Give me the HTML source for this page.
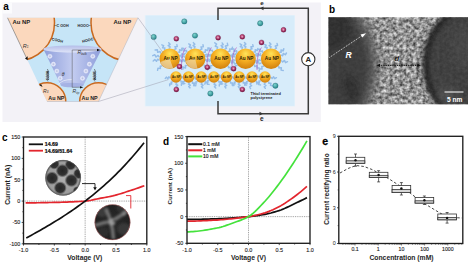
<!DOCTYPE html>
<html><head><meta charset="utf-8"><style>
html,body{margin:0;padding:0;background:#fff;width:468px;height:268px;overflow:hidden;}
svg{display:block;font-family:"Liberation Sans",sans-serif;}
</style></head><body>
<svg width="468" height="268" viewBox="0 0 468 268"><rect x="2.5" y="2.5" width="318.3" height="119.5" fill="#f3f2f7"/>
<rect x="2.5" y="2.5" width="9.5" height="11" fill="#fbfbfd"/>
<text x="3.2" y="10.3" font-family="Liberation Sans, sans-serif" font-weight="bold" font-size="10">a</text>
<defs><clipPath id="trap"><polygon points="7.5,17.8 138,17.8 98.5,101.5 47,101.5"/></clipPath>
<linearGradient id="cone" x1="0" y1="0" x2="1" y2="0"><stop offset="0" stop-color="#8e9edb"/><stop offset="0.5" stop-color="#c3ccf0"/><stop offset="1" stop-color="#8d9dda"/></linearGradient>
<linearGradient id="coneTop" x1="0" y1="0" x2="0" y2="1"><stop offset="0" stop-color="#b3bde8"/><stop offset="1" stop-color="#dfe4f8"/></linearGradient>
<radialGradient id="gold" cx="0.5" cy="0.3" r="0.75" fx="0.5" fy="0.25"><stop offset="0" stop-color="#ffe45a"/><stop offset="0.45" stop-color="#f5ae22"/><stop offset="1" stop-color="#cc7a0c"/></radialGradient>
<radialGradient id="ion1" cx="0.4" cy="0.35" r="0.7"><stop offset="0" stop-color="#7fd6d0"/><stop offset="1" stop-color="#1f7f86"/></radialGradient>
<radialGradient id="ion2" cx="0.4" cy="0.35" r="0.7"><stop offset="0" stop-color="#e06a9a"/><stop offset="1" stop-color="#7a1040"/></radialGradient>
</defs>
<polygon points="7.5,17.8 138,17.8 98.5,101.5 47,101.5" fill="#c6e5f7"/>
<g clip-path="url(#trap)">
<circle cx="16.5" cy="23" r="38" fill="#fbd8bd" stroke="#c9691f" stroke-width="1.5"/>
<circle cx="129" cy="23" r="38" fill="#fbd8bd" stroke="#c9691f" stroke-width="1.5"/>
<circle cx="47" cy="101.5" r="18.8" fill="#fbd8bd" stroke="#c9691f" stroke-width="1.5"/>
<circle cx="98.5" cy="101.5" r="18.8" fill="#fbd8bd" stroke="#c9691f" stroke-width="1.5"/>
</g>
<polyline points="138,17.8 98.5,101.5 47,101.5" fill="none" stroke="#a8a8b8" stroke-width="0.4"/>
<polyline points="48.00,69.00 47.20,70.04 48.80,71.08 47.20,72.12 48.80,73.17 47.20,74.21 48.80,75.25 47.20,76.29 48.80,77.33 47.20,78.38 48.80,79.42 47.20,80.46 48.00,81.50" fill="none" stroke="#333" stroke-width="0.5"/>
<polyline points="95.00,69.00 94.20,70.04 95.80,71.08 94.20,72.12 95.80,73.17 94.20,74.21 95.80,75.25 94.20,76.29 95.80,77.33 94.20,78.38 95.80,79.42 94.20,80.46 95.00,81.50" fill="none" stroke="#333" stroke-width="0.5"/>
<path d="M43.4,49 L60.6,84.8 A12,3 0 0 0 83.7,84.8 L101.7,49 Z" fill="url(#cone)"/>
<ellipse cx="72.5" cy="49" rx="29.1" ry="3.6" fill="url(#coneTop)"/>
<ellipse cx="72.2" cy="85" rx="11.6" ry="2.3" fill="#a5b2e4"/>
<path d="M58.5,84.5 Q62,79.5 72,79.5" fill="none" stroke="#eef0fa" stroke-width="0.7"/>
<circle cx="49.9" cy="56.3" r="2.1" fill="#dfe3f7" stroke="#f5f6ff" stroke-width="0.4"/>
<path d="M48.9,56.3 h2 M49.9,55.3 v2" stroke="#9aa3c8" stroke-width="0.35"/>
<circle cx="53.4" cy="64.2" r="2.1" fill="#dfe3f7" stroke="#f5f6ff" stroke-width="0.4"/>
<path d="M52.4,64.2 h2 M53.4,63.2 v2" stroke="#9aa3c8" stroke-width="0.35"/>
<circle cx="56.8" cy="71.1" r="2.1" fill="#dfe3f7" stroke="#f5f6ff" stroke-width="0.4"/>
<path d="M55.8,71.1 h2 M56.8,70.1 v2" stroke="#9aa3c8" stroke-width="0.35"/>
<circle cx="60.2" cy="78.3" r="2.1" fill="#dfe3f7" stroke="#f5f6ff" stroke-width="0.4"/>
<path d="M59.2,78.3 h2 M60.2,77.3 v2" stroke="#9aa3c8" stroke-width="0.35"/>
<circle cx="92.8" cy="56.3" r="2.1" fill="#dfe3f7" stroke="#f5f6ff" stroke-width="0.4"/>
<path d="M91.8,56.3 h2 M92.8,55.3 v2" stroke="#9aa3c8" stroke-width="0.35"/>
<circle cx="89.4" cy="64.2" r="2.1" fill="#dfe3f7" stroke="#f5f6ff" stroke-width="0.4"/>
<path d="M88.4,64.2 h2 M89.4,63.2 v2" stroke="#9aa3c8" stroke-width="0.35"/>
<circle cx="85.9" cy="71.1" r="2.1" fill="#dfe3f7" stroke="#f5f6ff" stroke-width="0.4"/>
<path d="M84.9,71.1 h2 M85.9,70.1 v2" stroke="#9aa3c8" stroke-width="0.35"/>
<circle cx="82.5" cy="78.3" r="2.1" fill="#dfe3f7" stroke="#f5f6ff" stroke-width="0.4"/>
<path d="M81.5,78.3 h2 M82.5,77.3 v2" stroke="#9aa3c8" stroke-width="0.35"/>
<line x1="72.2" y1="50" x2="72.2" y2="87.5" stroke="#444" stroke-width="0.45"/>
<line x1="72.2" y1="50" x2="98" y2="50" stroke="#444" stroke-width="0.45"/>
<polygon points="97,48.7 100.5,50 97,51.3" fill="#111"/>
<line x1="72.2" y1="87.3" x2="81" y2="87.3" stroke="#444" stroke-width="0.45"/>
<polygon points="80,86.2 83.3,87.3 80,88.4" fill="#111"/>
<text x="61.8" y="76" font-family="Liberation Sans, sans-serif" font-style="italic" font-size="5" fill="#333">θ</text>
<text x="77.5" y="54.3" font-family="Liberation Sans, sans-serif" font-style="italic" font-size="5" fill="#333">R<tspan font-size="3" dy="0.9">bulk</tspan></text>
<text x="72.5" y="93" font-family="Liberation Sans, sans-serif" font-style="italic" font-size="5" fill="#333">R<tspan font-size="3" dy="0.9">tip</tspan></text>
<text x="22.7" y="47.5" font-family="Liberation Sans, sans-serif" font-style="italic" font-size="5.5" fill="#333">R<tspan font-size="3.3" dy="0.9">1</tspan></text>
<text x="43" y="92.5" font-family="Liberation Sans, sans-serif" font-style="italic" font-size="5" fill="#333">R<tspan font-size="3" dy="0.9">3</tspan></text>
<line x1="7.5" y1="17.8" x2="26.5" y2="58" stroke="#444" stroke-width="0.45"/>
<polygon points="25,58.6 27.6,60.3 27.7,56.3" fill="#111"/>
<polygon points="39.4,85.3 42.6,87 41,84" fill="#111"/>
<text x="12.5" y="24.3" font-family="Liberation Sans, sans-serif" font-weight="bold" font-size="5.9" fill="#222">Au NP</text>
<text x="113.5" y="24.3" font-family="Liberation Sans, sans-serif" font-weight="bold" font-size="5.9" fill="#222">Au NP</text>
<text x="48.3" y="99.8" font-family="Liberation Sans, sans-serif" font-weight="bold" font-size="5.4" fill="#222">Au NP</text>
<text x="81.5" y="99.8" font-family="Liberation Sans, sans-serif" font-weight="bold" font-size="5.4" fill="#222">Au NP</text>
<text x="56.5" y="26.8" font-family="Liberation Sans, sans-serif" font-weight="bold" font-size="3.7" fill="#222">C OOH</text>
<line x1="54.5" y1="25.5" x2="56.5" y2="25.5" stroke="#333" stroke-width="0.5"/>
<text x="77.5" y="26.8" font-family="Liberation Sans, sans-serif" font-weight="bold" font-size="3.7" fill="#222">HOOC</text>
<line x1="88" y1="25.5" x2="90.5" y2="25.5" stroke="#333" stroke-width="0.5"/>
<text x="51.5" y="40.2" font-family="Liberation Sans, sans-serif" font-weight="bold" font-size="3.8" fill="#1a1a1a" transform="rotate(14 51.5 40.2)">COOH</text>
<text x="82.5" y="42.8" font-family="Liberation Sans, sans-serif" font-weight="bold" font-size="3.8" fill="#1a1a1a" transform="rotate(-14 82.5 42.8)">HOOC</text>
<text x="49.2" y="80" font-family="Liberation Sans, sans-serif" font-weight="bold" font-size="3" fill="#222" transform="rotate(-90 49.2 80)">COOH</text>
<text x="96.2" y="80" font-family="Liberation Sans, sans-serif" font-weight="bold" font-size="3" fill="#222" transform="rotate(-90 96.2 80)">HOOC</text>
<rect x="144.8" y="15" width="150.2" height="91.5" fill="#e6f2fa"/>
<rect x="145.6" y="15.6" width="148.8" height="90.3" fill="#d7ecfa"/>
<polyline points="218,20 218,8.3 308.3,8.3 308.3,113.7 218,113.7 218,101" fill="none" stroke="#3a3a3a" stroke-width="1.5"/>
<circle cx="308.3" cy="59.2" r="6.6" fill="#fff" stroke="#333" stroke-width="1.1"/>
<text x="308.3" y="62.4" font-family="Liberation Sans, sans-serif" font-weight="bold" font-size="7.8" text-anchor="middle" fill="#222">A</text>
<text x="262" y="5.2" font-family="Liberation Sans, sans-serif" font-weight="bold" font-size="6.2" text-anchor="middle" fill="#222">e</text>
<text x="261.7" y="121" font-family="Liberation Sans, sans-serif" font-weight="bold" font-size="6.5" text-anchor="middle" fill="#222">e</text>
<polygon points="260,8.3 263.5,6.4 263.5,10.2" fill="#333"/>
<polygon points="263,113.7 259.5,111.8 259.5,115.6" fill="#333"/>
<polyline points="169.24,48.01 170.20,46.92 168.14,45.70 170.09,44.31 168.72,42.80" fill="none" stroke="#95bde8" stroke-width="1.45" stroke-linecap="round" stroke-linejoin="round"/>
<polyline points="174.74,49.25 176.10,48.81 174.92,46.75 177.29,46.55 176.85,44.59" fill="none" stroke="#95bde8" stroke-width="1.45" stroke-linecap="round" stroke-linejoin="round"/>
<polyline points="178.20,52.14 179.69,52.24 179.55,49.81 181.88,50.53 182.38,48.48" fill="none" stroke="#95bde8" stroke-width="1.45" stroke-linecap="round" stroke-linejoin="round"/>
<polyline points="179.92,55.30 181.33,55.87 182.04,53.51 184.05,54.93 185.27,53.14" fill="none" stroke="#95bde8" stroke-width="1.45" stroke-linecap="round" stroke-linejoin="round"/>
<polyline points="180.43,60.02 181.44,61.14 183.07,59.32 184.25,61.46 186.08,60.36" fill="none" stroke="#95bde8" stroke-width="1.45" stroke-linecap="round" stroke-linejoin="round"/>
<polyline points="178.79,64.63 179.12,66.02 181.28,65.03 181.28,67.41 183.28,67.15" fill="none" stroke="#95bde8" stroke-width="1.45" stroke-linecap="round" stroke-linejoin="round"/>
<polyline points="161.72,66.08 160.17,66.14 160.42,68.62 157.98,68.14 157.54,70.31" fill="none" stroke="#95bde8" stroke-width="1.45" stroke-linecap="round" stroke-linejoin="round"/>
<polyline points="158.97,60.06 157.69,59.20 156.47,61.36 154.78,59.55 153.18,61.04" fill="none" stroke="#95bde8" stroke-width="1.45" stroke-linecap="round" stroke-linejoin="round"/>
<polyline points="159.11,56.66 158.05,55.42 156.06,57.06 154.88,54.78 152.72,55.67" fill="none" stroke="#95bde8" stroke-width="1.45" stroke-linecap="round" stroke-linejoin="round"/>
<polyline points="160.57,53.02 160.05,51.51 157.65,52.35 157.39,49.82 155.10,49.91" fill="none" stroke="#95bde8" stroke-width="1.45" stroke-linecap="round" stroke-linejoin="round"/>
<polyline points="164.53,49.32 164.91,47.92 162.53,47.74 163.66,45.63 161.77,44.88" fill="none" stroke="#95bde8" stroke-width="1.45" stroke-linecap="round" stroke-linejoin="round"/>
<polyline points="194.21,48.05 195.11,46.87 192.99,45.69 194.86,44.15 193.41,42.63" fill="none" stroke="#95bde8" stroke-width="1.45" stroke-linecap="round" stroke-linejoin="round"/>
<polyline points="200.61,49.45 202.00,49.04 200.93,46.90 203.32,46.76 202.99,44.74" fill="none" stroke="#95bde8" stroke-width="1.45" stroke-linecap="round" stroke-linejoin="round"/>
<polyline points="203.77,52.23 205.33,52.30 205.29,49.81 207.69,50.49 208.32,48.37" fill="none" stroke="#95bde8" stroke-width="1.45" stroke-linecap="round" stroke-linejoin="round"/>
<polyline points="205.65,56.08 207.03,56.75 207.93,54.45 209.85,56.02 211.21,54.32" fill="none" stroke="#95bde8" stroke-width="1.45" stroke-linecap="round" stroke-linejoin="round"/>
<polyline points="205.92,60.09 206.81,61.20 208.32,59.37 209.34,61.50 211.01,60.40" fill="none" stroke="#95bde8" stroke-width="1.45" stroke-linecap="round" stroke-linejoin="round"/>
<polyline points="204.10,64.92 204.52,66.43 206.90,65.63 207.00,68.13 209.23,68.09" fill="none" stroke="#95bde8" stroke-width="1.45" stroke-linecap="round" stroke-linejoin="round"/>
<polyline points="186.83,65.63 185.36,65.54 185.56,67.95 183.24,67.27 182.80,69.31" fill="none" stroke="#95bde8" stroke-width="1.45" stroke-linecap="round" stroke-linejoin="round"/>
<polyline points="184.53,60.45 183.18,59.65 181.99,61.86 180.19,60.11 178.60,61.68" fill="none" stroke="#95bde8" stroke-width="1.45" stroke-linecap="round" stroke-linejoin="round"/>
<polyline points="184.54,57.05 183.55,55.87 181.78,57.61 180.66,55.40 178.71,56.39" fill="none" stroke="#95bde8" stroke-width="1.45" stroke-linecap="round" stroke-linejoin="round"/>
<polyline points="186.80,52.02 186.44,50.44 183.96,51.01 183.99,48.46 181.70,48.28" fill="none" stroke="#95bde8" stroke-width="1.45" stroke-linecap="round" stroke-linejoin="round"/>
<polyline points="191.06,48.83 191.56,47.44 189.20,46.95 190.52,44.93 188.70,43.93" fill="none" stroke="#95bde8" stroke-width="1.45" stroke-linecap="round" stroke-linejoin="round"/>
<polyline points="221.84,48.07 222.95,47.16 221.12,45.64 223.25,44.59 222.14,42.89" fill="none" stroke="#95bde8" stroke-width="1.45" stroke-linecap="round" stroke-linejoin="round"/>
<polyline points="225.09,48.98 226.51,48.28 225.33,46.05 227.79,45.49 227.37,43.28" fill="none" stroke="#95bde8" stroke-width="1.45" stroke-linecap="round" stroke-linejoin="round"/>
<polyline points="228.45,51.39 229.97,51.33 229.64,48.89 232.06,49.36 232.42,47.23" fill="none" stroke="#95bde8" stroke-width="1.45" stroke-linecap="round" stroke-linejoin="round"/>
<polyline points="230.80,55.25 232.26,55.80 233.02,53.42 235.10,54.81 236.37,52.99" fill="none" stroke="#95bde8" stroke-width="1.45" stroke-linecap="round" stroke-linejoin="round"/>
<polyline points="230.96,61.87 231.80,63.16 233.77,61.66 234.60,63.99 236.66,63.24" fill="none" stroke="#95bde8" stroke-width="1.45" stroke-linecap="round" stroke-linejoin="round"/>
<polyline points="228.40,66.27 228.50,67.75 230.87,67.25 230.48,69.64 232.56,69.83" fill="none" stroke="#95bde8" stroke-width="1.45" stroke-linecap="round" stroke-linejoin="round"/>
<polyline points="212.23,65.62 210.63,65.64 210.68,68.18 208.20,67.61 207.56,69.81" fill="none" stroke="#95bde8" stroke-width="1.45" stroke-linecap="round" stroke-linejoin="round"/>
<polyline points="209.87,60.07 208.62,59.21 207.44,61.36 205.79,59.54 204.24,61.04" fill="none" stroke="#95bde8" stroke-width="1.45" stroke-linecap="round" stroke-linejoin="round"/>
<polyline points="210.17,55.98 209.45,54.75 207.70,56.35 206.99,54.09 205.18,54.95" fill="none" stroke="#95bde8" stroke-width="1.45" stroke-linecap="round" stroke-linejoin="round"/>
<polyline points="212.49,51.67 212.26,50.13 209.81,50.64 210.01,48.15 207.81,47.95" fill="none" stroke="#95bde8" stroke-width="1.45" stroke-linecap="round" stroke-linejoin="round"/>
<polyline points="217.10,48.58 217.64,47.08 215.24,46.26 216.63,44.13 214.79,42.79" fill="none" stroke="#95bde8" stroke-width="1.45" stroke-linecap="round" stroke-linejoin="round"/>
<polyline points="245.04,48.01 245.98,46.85 243.91,45.56 245.84,44.06 244.45,42.46" fill="none" stroke="#95bde8" stroke-width="1.45" stroke-linecap="round" stroke-linejoin="round"/>
<polyline points="250.68,49.27 252.03,48.85 250.86,46.80 253.21,46.63 252.78,44.68" fill="none" stroke="#95bde8" stroke-width="1.45" stroke-linecap="round" stroke-linejoin="round"/>
<polyline points="253.98,51.99 255.43,52.10 255.19,49.72 257.47,50.45 257.87,48.44" fill="none" stroke="#95bde8" stroke-width="1.45" stroke-linecap="round" stroke-linejoin="round"/>
<polyline points="255.86,55.44 257.14,56.07 257.73,53.78 259.56,55.28 260.61,53.57" fill="none" stroke="#95bde8" stroke-width="1.45" stroke-linecap="round" stroke-linejoin="round"/>
<polyline points="255.95,61.88 256.66,63.13 258.48,61.58 259.15,63.87 261.02,63.07" fill="none" stroke="#95bde8" stroke-width="1.45" stroke-linecap="round" stroke-linejoin="round"/>
<polyline points="254.44,65.01 254.77,66.47 257.07,65.64 257.06,68.08 259.18,67.98" fill="none" stroke="#95bde8" stroke-width="1.45" stroke-linecap="round" stroke-linejoin="round"/>
<polyline points="237.08,65.43 235.46,65.42 235.44,67.97 232.97,67.36 232.27,69.55" fill="none" stroke="#95bde8" stroke-width="1.45" stroke-linecap="round" stroke-linejoin="round"/>
<polyline points="234.92,60.39 233.52,59.59 232.26,61.80 230.41,60.05 228.73,61.61" fill="none" stroke="#95bde8" stroke-width="1.45" stroke-linecap="round" stroke-linejoin="round"/>
<polyline points="234.96,56.96 234.02,55.78 232.29,57.51 231.25,55.30 229.37,56.30" fill="none" stroke="#95bde8" stroke-width="1.45" stroke-linecap="round" stroke-linejoin="round"/>
<polyline points="236.93,52.36 236.51,50.80 234.05,51.46 233.98,48.91 231.68,48.82" fill="none" stroke="#95bde8" stroke-width="1.45" stroke-linecap="round" stroke-linejoin="round"/>
<polyline points="242.01,48.61 242.60,47.30 240.28,46.73 241.74,44.83 239.99,43.79" fill="none" stroke="#95bde8" stroke-width="1.45" stroke-linecap="round" stroke-linejoin="round"/>
<polyline points="270.26,48.03 271.18,46.89 269.08,45.71 270.97,44.22 269.55,42.72" fill="none" stroke="#95bde8" stroke-width="1.45" stroke-linecap="round" stroke-linejoin="round"/>
<polyline points="275.15,48.79 276.51,48.10 275.19,46.03 277.59,45.45 277.03,43.37" fill="none" stroke="#95bde8" stroke-width="1.45" stroke-linecap="round" stroke-linejoin="round"/>
<polyline points="279.69,52.25 281.15,52.39 281.01,49.98 283.29,50.75 283.79,48.74" fill="none" stroke="#95bde8" stroke-width="1.45" stroke-linecap="round" stroke-linejoin="round"/>
<polyline points="281.27,55.16 282.67,55.73 283.32,53.37 285.32,54.78 286.47,52.99" fill="none" stroke="#95bde8" stroke-width="1.45" stroke-linecap="round" stroke-linejoin="round"/>
<polyline points="281.70,60.87 282.66,62.08 284.47,60.40 285.53,62.64 287.50,61.70" fill="none" stroke="#95bde8" stroke-width="1.45" stroke-linecap="round" stroke-linejoin="round"/>
<polyline points="278.76,66.41 278.91,67.97 281.39,67.61 281.06,70.10 283.26,70.45" fill="none" stroke="#95bde8" stroke-width="1.45" stroke-linecap="round" stroke-linejoin="round"/>
<polyline points="263.42,66.40 261.82,66.58 262.10,69.12 259.56,68.81 259.12,71.08" fill="none" stroke="#95bde8" stroke-width="1.45" stroke-linecap="round" stroke-linejoin="round"/>
<polyline points="260.43,60.49 259.03,59.70 257.78,61.92 255.91,60.19 254.25,61.78" fill="none" stroke="#95bde8" stroke-width="1.45" stroke-linecap="round" stroke-linejoin="round"/>
<polyline points="260.77,55.65 259.99,54.37 258.07,55.87 257.32,53.55 255.34,54.31" fill="none" stroke="#95bde8" stroke-width="1.45" stroke-linecap="round" stroke-linejoin="round"/>
<polyline points="262.50,52.27 262.28,50.85 260.04,51.67 260.22,49.30 258.21,49.40" fill="none" stroke="#95bde8" stroke-width="1.45" stroke-linecap="round" stroke-linejoin="round"/>
<polyline points="266.73,48.92 267.23,47.59 264.89,47.23 266.20,45.26 264.39,44.39" fill="none" stroke="#95bde8" stroke-width="1.45" stroke-linecap="round" stroke-linejoin="round"/>
<polyline points="180.91,80.78 181.11,82.07 183.14,81.36 182.98,83.50 184.81,83.44" fill="none" stroke="#95bde8" stroke-width="1.45" stroke-linecap="round" stroke-linejoin="round"/>
<polyline points="176.63,83.17 175.83,84.22 177.74,85.24 176.07,86.63 177.39,87.96" fill="none" stroke="#95bde8" stroke-width="1.45" stroke-linecap="round" stroke-linejoin="round"/>
<polyline points="172.24,81.93 170.98,82.10 171.73,84.09 169.62,83.89 169.73,85.67" fill="none" stroke="#95bde8" stroke-width="1.45" stroke-linecap="round" stroke-linejoin="round"/>
<polyline points="169.83,77.65 168.82,76.85 167.87,78.76 166.54,77.09 165.29,78.40" fill="none" stroke="#95bde8" stroke-width="1.45" stroke-linecap="round" stroke-linejoin="round"/>
<polyline points="182.19,76.75 183.14,77.61 184.19,75.76 185.40,77.52 186.71,76.29" fill="none" stroke="#95bde8" stroke-width="1.45" stroke-linecap="round" stroke-linejoin="round"/>
<polyline points="192.47,81.85 192.40,83.21 194.60,83.09 193.99,85.21 195.86,85.68" fill="none" stroke="#95bde8" stroke-width="1.45" stroke-linecap="round" stroke-linejoin="round"/>
<polyline points="189.25,83.17 188.46,84.21 190.37,85.20 188.71,86.57 190.02,87.86" fill="none" stroke="#95bde8" stroke-width="1.45" stroke-linecap="round" stroke-linejoin="round"/>
<polyline points="184.42,81.58 183.10,81.69 183.61,83.80 181.46,83.49 181.34,85.36" fill="none" stroke="#95bde8" stroke-width="1.45" stroke-linecap="round" stroke-linejoin="round"/>
<polyline points="182.44,77.70 181.28,76.93 180.15,78.87 178.62,77.23 177.16,78.57" fill="none" stroke="#95bde8" stroke-width="1.45" stroke-linecap="round" stroke-linejoin="round"/>
<polyline points="194.73,77.91 195.58,78.95 197.08,77.35 198.04,79.32 199.68,78.38" fill="none" stroke="#95bde8" stroke-width="1.45" stroke-linecap="round" stroke-linejoin="round"/>
<polyline points="205.61,81.36 205.62,82.65 207.70,82.18 207.25,84.26 209.05,84.40" fill="none" stroke="#95bde8" stroke-width="1.45" stroke-linecap="round" stroke-linejoin="round"/>
<polyline points="201.94,83.16 201.16,84.22 203.09,85.21 201.45,86.63 202.78,87.93" fill="none" stroke="#95bde8" stroke-width="1.45" stroke-linecap="round" stroke-linejoin="round"/>
<polyline points="197.14,81.68 195.76,81.90 196.24,84.08 194.01,83.91 193.85,85.88" fill="none" stroke="#95bde8" stroke-width="1.45" stroke-linecap="round" stroke-linejoin="round"/>
<polyline points="195.03,77.63 194.04,76.83 193.10,78.73 191.79,77.05 190.56,78.36" fill="none" stroke="#95bde8" stroke-width="1.45" stroke-linecap="round" stroke-linejoin="round"/>
<polyline points="207.34,77.84 208.22,78.86 209.71,77.25 210.71,79.20 212.36,78.25" fill="none" stroke="#95bde8" stroke-width="1.45" stroke-linecap="round" stroke-linejoin="round"/>
<polyline points="218.72,80.90 218.94,82.23 221.05,81.62 220.90,83.81 222.82,83.85" fill="none" stroke="#95bde8" stroke-width="1.45" stroke-linecap="round" stroke-linejoin="round"/>
<polyline points="214.78,83.14 214.03,84.26 215.99,85.25 214.38,86.75 215.76,88.08" fill="none" stroke="#95bde8" stroke-width="1.45" stroke-linecap="round" stroke-linejoin="round"/>
<polyline points="208.93,80.71 207.54,80.63 207.54,82.88 205.39,82.24 204.80,84.14" fill="none" stroke="#95bde8" stroke-width="1.45" stroke-linecap="round" stroke-linejoin="round"/>
<polyline points="207.71,76.64 206.81,75.68 205.52,77.41 204.44,75.54 202.94,76.62" fill="none" stroke="#95bde8" stroke-width="1.45" stroke-linecap="round" stroke-linejoin="round"/>
<polyline points="220.10,76.75 221.06,77.61 222.16,75.77 223.40,77.52 224.75,76.30" fill="none" stroke="#95bde8" stroke-width="1.45" stroke-linecap="round" stroke-linejoin="round"/>
<polyline points="230.51,81.73 230.48,83.08 232.66,82.87 232.11,84.99 233.97,85.39" fill="none" stroke="#95bde8" stroke-width="1.45" stroke-linecap="round" stroke-linejoin="round"/>
<polyline points="225.98,83.18 225.00,84.07 226.70,85.42 224.80,86.47 225.85,88.01" fill="none" stroke="#95bde8" stroke-width="1.45" stroke-linecap="round" stroke-linejoin="round"/>
<polyline points="222.49,81.73 221.12,81.96 221.64,84.14 219.41,83.99 219.27,85.96" fill="none" stroke="#95bde8" stroke-width="1.45" stroke-linecap="round" stroke-linejoin="round"/>
<polyline points="220.37,76.10 219.44,75.06 217.85,76.64 216.79,74.67 215.03,75.59" fill="none" stroke="#95bde8" stroke-width="1.45" stroke-linecap="round" stroke-linejoin="round"/>
<polyline points="232.67,77.57 233.65,78.56 235.14,76.89 236.30,78.81 237.99,77.79" fill="none" stroke="#95bde8" stroke-width="1.45" stroke-linecap="round" stroke-linejoin="round"/>
<polyline points="243.26,81.69 243.20,82.99 245.33,82.71 244.74,84.78 246.56,85.09" fill="none" stroke="#95bde8" stroke-width="1.45" stroke-linecap="round" stroke-linejoin="round"/>
<polyline points="239.17,83.20 238.26,84.17 240.06,85.39 238.25,86.59 239.41,88.06" fill="none" stroke="#95bde8" stroke-width="1.45" stroke-linecap="round" stroke-linejoin="round"/>
<polyline points="235.48,81.96 234.21,82.14 234.97,84.13 232.85,83.95 232.97,85.74" fill="none" stroke="#95bde8" stroke-width="1.45" stroke-linecap="round" stroke-linejoin="round"/>
<polyline points="233.01,77.41 232.00,76.57 230.94,78.45 229.63,76.73 228.28,77.99" fill="none" stroke="#95bde8" stroke-width="1.45" stroke-linecap="round" stroke-linejoin="round"/>
<polyline points="245.39,77.36 246.43,78.32 247.89,76.60 249.15,78.48 250.85,77.40" fill="none" stroke="#95bde8" stroke-width="1.45" stroke-linecap="round" stroke-linejoin="round"/>
<polyline points="256.45,81.31 256.61,82.72 258.84,82.37 258.56,84.61 260.55,84.90" fill="none" stroke="#95bde8" stroke-width="1.45" stroke-linecap="round" stroke-linejoin="round"/>
<polyline points="251.10,83.13 250.05,84.08 251.63,85.69 249.65,86.78 250.57,88.57" fill="none" stroke="#95bde8" stroke-width="1.45" stroke-linecap="round" stroke-linejoin="round"/>
<polyline points="247.80,81.56 246.50,81.64 247.02,83.73 244.90,83.38 244.80,85.21" fill="none" stroke="#95bde8" stroke-width="1.45" stroke-linecap="round" stroke-linejoin="round"/>
<polyline points="245.82,77.51 244.81,76.69 243.79,78.58 242.47,76.88 241.16,78.16" fill="none" stroke="#95bde8" stroke-width="1.45" stroke-linecap="round" stroke-linejoin="round"/>
<polyline points="258.18,76.45 259.28,77.26 260.39,75.35 261.83,77.03 263.26,75.73" fill="none" stroke="#95bde8" stroke-width="1.45" stroke-linecap="round" stroke-linejoin="round"/>
<polyline points="268.83,81.88 268.78,83.27 271.02,83.21 270.43,85.37 272.34,85.91" fill="none" stroke="#95bde8" stroke-width="1.45" stroke-linecap="round" stroke-linejoin="round"/>
<polyline points="265.04,83.20 264.14,84.24 265.95,85.51 264.16,86.81 265.34,88.35" fill="none" stroke="#95bde8" stroke-width="1.45" stroke-linecap="round" stroke-linejoin="round"/>
<polyline points="260.24,80.97 258.96,80.87 259.23,82.99 257.20,82.34 256.89,84.12" fill="none" stroke="#95bde8" stroke-width="1.45" stroke-linecap="round" stroke-linejoin="round"/>
<polyline points="258.81,76.70 257.77,75.75 256.33,77.48 255.07,75.62 253.39,76.71" fill="none" stroke="#95bde8" stroke-width="1.45" stroke-linecap="round" stroke-linejoin="round"/>
<polyline points="271.18,77.52 272.15,78.51 273.61,76.83 274.76,78.73 276.43,77.70" fill="none" stroke="#95bde8" stroke-width="1.45" stroke-linecap="round" stroke-linejoin="round"/>
<circle cx="169.7" cy="58.8" r="10.2" fill="url(#gold)"/>
<text x="170.5" y="60.1" font-family="Liberation Sans, sans-serif" font-weight="bold" font-size="4.7" text-anchor="middle" fill="#2e1e06">Au NP</text>
<circle cx="195.2" cy="58.8" r="10.2" fill="url(#gold)"/>
<text x="196.0" y="60.1" font-family="Liberation Sans, sans-serif" font-weight="bold" font-size="4.7" text-anchor="middle" fill="#2e1e06">Au NP</text>
<circle cx="220.6" cy="58.8" r="10.2" fill="url(#gold)"/>
<text x="221.4" y="60.1" font-family="Liberation Sans, sans-serif" font-weight="bold" font-size="4.7" text-anchor="middle" fill="#2e1e06">Au NP</text>
<circle cx="245.6" cy="58.8" r="10.2" fill="url(#gold)"/>
<text x="246.4" y="60.1" font-family="Liberation Sans, sans-serif" font-weight="bold" font-size="4.7" text-anchor="middle" fill="#2e1e06">Au NP</text>
<circle cx="271.1" cy="58.8" r="10.2" fill="url(#gold)"/>
<text x="271.90000000000003" y="60.1" font-family="Liberation Sans, sans-serif" font-weight="bold" font-size="4.7" text-anchor="middle" fill="#2e1e06">Au NP</text>
<path d="M169.7,58.8 L160.2,61.9 A9.9,9.9 0 0 0 173.1,68.1 Z" fill="#ece6cc" opacity="0.6"/>
<path d="M195.2,58.8 L185.5,60.8 A9.9,9.9 0 0 0 197.5,68.4 Z" fill="#ece6cc" opacity="0.55"/>
<circle cx="176" cy="77" r="5.7" fill="url(#gold)"/>
<text x="176.2" y="78" font-family="Liberation Sans, sans-serif" font-weight="bold" font-size="2.8" text-anchor="middle" fill="#2e1e06">Au NP</text>
<circle cx="188.6" cy="77" r="5.7" fill="url(#gold)"/>
<text x="188.79999999999998" y="78" font-family="Liberation Sans, sans-serif" font-weight="bold" font-size="2.8" text-anchor="middle" fill="#2e1e06">Au NP</text>
<circle cx="201.2" cy="77" r="5.7" fill="url(#gold)"/>
<text x="201.39999999999998" y="78" font-family="Liberation Sans, sans-serif" font-weight="bold" font-size="2.8" text-anchor="middle" fill="#2e1e06">Au NP</text>
<circle cx="213.9" cy="77" r="5.7" fill="url(#gold)"/>
<text x="214.1" y="78" font-family="Liberation Sans, sans-serif" font-weight="bold" font-size="2.8" text-anchor="middle" fill="#2e1e06">Au NP</text>
<circle cx="226.5" cy="77" r="5.7" fill="url(#gold)"/>
<text x="226.7" y="78" font-family="Liberation Sans, sans-serif" font-weight="bold" font-size="2.8" text-anchor="middle" fill="#2e1e06">Au NP</text>
<circle cx="239.2" cy="77" r="5.7" fill="url(#gold)"/>
<text x="239.39999999999998" y="78" font-family="Liberation Sans, sans-serif" font-weight="bold" font-size="2.8" text-anchor="middle" fill="#2e1e06">Au NP</text>
<circle cx="252" cy="77" r="5.7" fill="url(#gold)"/>
<text x="252.2" y="78" font-family="Liberation Sans, sans-serif" font-weight="bold" font-size="2.8" text-anchor="middle" fill="#2e1e06">Au NP</text>
<circle cx="265" cy="77" r="5.7" fill="url(#gold)"/>
<text x="265.2" y="78" font-family="Liberation Sans, sans-serif" font-weight="bold" font-size="2.8" text-anchor="middle" fill="#2e1e06">Au NP</text>
<path d="M186.0,47.5 Q181.0,53 181.5,70" fill="none" stroke="#b848b8" stroke-width="0.6"/>
<path d="M211.5,47.5 Q206.5,53 207,70" fill="none" stroke="#b848b8" stroke-width="0.6"/>
<path d="M236.5,47.5 Q231.5,53 232,70" fill="none" stroke="#b848b8" stroke-width="0.6"/>
<path d="M261.5,47.5 Q256.5,53 257,70" fill="none" stroke="#b848b8" stroke-width="0.6"/>
<circle cx="184.3" cy="21.4" r="2.7" fill="url(#ion1)" stroke="#1a5a60" stroke-width="0.3"/>
<circle cx="153.7" cy="37" r="2.7" fill="url(#ion1)" stroke="#1a5a60" stroke-width="0.3"/>
<circle cx="195" cy="35.6" r="2.7" fill="url(#ion1)" stroke="#1a5a60" stroke-width="0.3"/>
<circle cx="260.2" cy="23.3" r="2.7" fill="url(#ion1)" stroke="#1a5a60" stroke-width="0.3"/>
<circle cx="275.4" cy="85.7" r="2.7" fill="url(#ion1)" stroke="#1a5a60" stroke-width="0.3"/>
<circle cx="210.4" cy="93.5" r="2.7" fill="url(#ion1)" stroke="#1a5a60" stroke-width="0.3"/>
<circle cx="176.3" cy="38.7" r="2.5" fill="url(#ion2)" stroke="#5a0a30" stroke-width="0.3"/>
<path d="M175.4,38.7 h1.8 M176.3,37.800000000000004 v1.8" stroke="#f0d0e0" stroke-width="0.45"/>
<circle cx="218.1" cy="37.7" r="2.5" fill="url(#ion2)" stroke="#5a0a30" stroke-width="0.3"/>
<path d="M217.2,37.7 h1.8 M218.1,36.800000000000004 v1.8" stroke="#f0d0e0" stroke-width="0.45"/>
<circle cx="242.3" cy="36.8" r="2.5" fill="url(#ion2)" stroke="#5a0a30" stroke-width="0.3"/>
<path d="M241.4,36.8 h1.8 M242.3,35.9 v1.8" stroke="#f0d0e0" stroke-width="0.45"/>
<circle cx="261.5" cy="42.4" r="2.5" fill="url(#ion2)" stroke="#5a0a30" stroke-width="0.3"/>
<path d="M260.6,42.4 h1.8 M261.5,41.5 v1.8" stroke="#f0d0e0" stroke-width="0.45"/>
<circle cx="283.5" cy="29.8" r="2.5" fill="url(#ion2)" stroke="#5a0a30" stroke-width="0.3"/>
<path d="M282.6,29.8 h1.8 M283.5,28.900000000000002 v1.8" stroke="#f0d0e0" stroke-width="0.45"/>
<circle cx="176.3" cy="89.4" r="2.5" fill="url(#ion2)" stroke="#5a0a30" stroke-width="0.3"/>
<path d="M175.4,89.4 h1.8 M176.3,88.5 v1.8" stroke="#f0d0e0" stroke-width="0.45"/>
<circle cx="242.3" cy="89.4" r="2.5" fill="url(#ion2)" stroke="#5a0a30" stroke-width="0.3"/>
<path d="M241.4,89.4 h1.8 M242.3,88.5 v1.8" stroke="#f0d0e0" stroke-width="0.45"/>
<circle cx="207.3" cy="67.2" r="2.5" fill="url(#ion2)" stroke="#5a0a30" stroke-width="0.3"/>
<path d="M206.4,67.2 h1.8 M207.3,66.3 v1.8" stroke="#f0d0e0" stroke-width="0.45"/>
<circle cx="233.6" cy="68.7" r="2.5" fill="url(#ion2)" stroke="#5a0a30" stroke-width="0.3"/>
<path d="M232.7,68.7 h1.8 M233.6,67.8 v1.8" stroke="#f0d0e0" stroke-width="0.45"/>
<circle cx="179.4" cy="66.5" r="2.5" fill="url(#ion2)" stroke="#5a0a30" stroke-width="0.3"/>
<path d="M178.5,66.5 h1.8 M179.4,65.6 v1.8" stroke="#f0d0e0" stroke-width="0.45"/>
<line x1="138" y1="17.8" x2="163.5" y2="53.3" stroke="#9c9cac" stroke-width="0.5"/>
<line x1="98.5" y1="101.5" x2="168.5" y2="79.6" stroke="#9c9cac" stroke-width="0.5"/>
<text x="250.5" y="94.8" font-family="Liberation Sans, sans-serif" font-weight="bold" font-size="3.9" fill="#222">Thiol terminated</text>
<text x="250.5" y="99.4" font-family="Liberation Sans, sans-serif" font-weight="bold" font-size="3.9" fill="#222">polystyrene</text>
<text x="329" y="12.8" font-family="Liberation Sans, sans-serif" font-weight="bold" font-size="10">b</text>
<defs><filter id="noise" x="0" y="0" width="100%" height="100%" color-interpolation-filters="sRGB"><feTurbulence type="fractalNoise" baseFrequency="0.3" numOctaves="2" seed="11" result="t"/><feColorMatrix in="t" type="matrix" values="1.0 0 0 0 0.08  1.0 0 0 0 0.08  1.0 0 0 0 0.08  0 0 0 0 1"/><feGaussianBlur stdDeviation="0.6"/></filter>
<filter id="blur3" x="-20%" y="-20%" width="140%" height="140%"><feGaussianBlur stdDeviation="3"/></filter>
<filter id="blur5" x="-20%" y="-20%" width="140%" height="140%"><feGaussianBlur stdDeviation="4.5"/></filter>
<filter id="blur2" x="-20%" y="-20%" width="140%" height="140%"><feGaussianBlur stdDeviation="2"/></filter>
<clipPath id="tem"><rect x="328.5" y="17.3" width="139.5" height="87"/></clipPath>
</defs>
<g clip-path="url(#tem)">
<rect x="328.5" y="17.3" width="139.5" height="87" fill="#999" filter="url(#noise)"/>
<g filter="url(#blur5)">
<circle cx="288" cy="67" r="93" fill="#707070" opacity="0.45"/>
<circle cx="288" cy="67" r="89" fill="#545454" opacity="0.85"/>
<circle cx="288" cy="67" r="82" fill="#363636" opacity="0.96"/>
<ellipse cx="351" cy="88" rx="6" ry="15" fill="#1a1a1a" opacity="0.6" transform="rotate(-20 351 88)"/>
<circle cx="330" cy="28" r="22" fill="#202020" opacity="0.6"/>
</g>
<g filter="url(#blur2)">
<circle cx="489" cy="64" r="67" fill="#3a3a3a" opacity="0.97"/>
<circle cx="489" cy="64" r="63" fill="none" stroke="#161616" stroke-width="6" opacity="0.85"/>
</g>
<g filter="url(#blur5)"><ellipse cx="447" cy="96" rx="9" ry="8" fill="#5a5a5a" opacity="0.6"/><ellipse cx="462" cy="45" rx="10" ry="22" fill="#484848" opacity="0.5"/></g>
<rect x="328.5" y="17.3" width="139.5" height="87" fill="#999" filter="url(#noise)" opacity="0.07"/>
</g>
<line x1="329.4" y1="57.5" x2="363" y2="35" stroke="#fff" stroke-width="0.8" stroke-dasharray="1,1"/>
<polygon points="360.5,34.5 366,33.2 362.5,37.5" fill="#fff"/>
<text x="345.5" y="58.3" font-family="Liberation Sans, sans-serif" font-weight="bold" font-style="italic" font-size="8.6" fill="#fff">R</text>
<text x="394.5" y="60.5" font-family="Liberation Sans, sans-serif" font-style="italic" font-size="8" fill="#000">d</text>
<line x1="379" y1="65.3" x2="418.5" y2="65.3" stroke="#000" stroke-width="1" stroke-dasharray="1.1,0.7"/>
<polygon points="376.5,65.3 380,63.7 380,66.9" fill="#111"/>
<polygon points="421,65.3 417.5,63.7 417.5,66.9" fill="#111"/>
<line x1="444.5" y1="92" x2="463.5" y2="92" stroke="#fff" stroke-width="1"/>
<text x="454.8" y="102.4" font-family="Liberation Sans, sans-serif" font-weight="bold" font-size="6.6" text-anchor="middle" fill="#fff">5 nm</text>
<text x="2" y="140.8" font-family="Liberation Sans, sans-serif" font-weight="bold" font-size="10">c</text>
<line x1="85.15" y1="137" x2="85.15" y2="243.8" stroke="#444" stroke-width="0.55" stroke-dasharray="0.9,0.9"/>
<line x1="23.5" y1="201.08" x2="146.8" y2="201.08" stroke="#444" stroke-width="0.55" stroke-dasharray="0.9,0.9"/>
<text x="23.50" y="251.8" font-family="Liberation Sans, sans-serif" font-size="5.4" text-anchor="middle" fill="#1e1e1e" stroke="#1e1e1e" stroke-width="0.12">-1.0</text>
<text x="54.33" y="251.8" font-family="Liberation Sans, sans-serif" font-size="5.4" text-anchor="middle" fill="#1e1e1e" stroke="#1e1e1e" stroke-width="0.12">-0.5</text>
<text x="85.15" y="251.8" font-family="Liberation Sans, sans-serif" font-size="5.4" text-anchor="middle" fill="#1e1e1e" stroke="#1e1e1e" stroke-width="0.12">0.0</text>
<text x="115.98" y="251.8" font-family="Liberation Sans, sans-serif" font-size="5.4" text-anchor="middle" fill="#1e1e1e" stroke="#1e1e1e" stroke-width="0.12">0.5</text>
<text x="146.80" y="251.8" font-family="Liberation Sans, sans-serif" font-size="5.4" text-anchor="middle" fill="#1e1e1e" stroke="#1e1e1e" stroke-width="0.12">1.0</text>
<line x1="23.50" y1="243.8" x2="23.50" y2="245.60000000000002" stroke="#222" stroke-width="0.8"/>
<line x1="38.91" y1="243.8" x2="38.91" y2="245.0" stroke="#222" stroke-width="0.8"/>
<line x1="54.33" y1="243.8" x2="54.33" y2="245.60000000000002" stroke="#222" stroke-width="0.8"/>
<line x1="69.74" y1="243.8" x2="69.74" y2="245.0" stroke="#222" stroke-width="0.8"/>
<line x1="85.15" y1="243.8" x2="85.15" y2="245.60000000000002" stroke="#222" stroke-width="0.8"/>
<line x1="100.56" y1="243.8" x2="100.56" y2="245.0" stroke="#222" stroke-width="0.8"/>
<line x1="115.98" y1="243.8" x2="115.98" y2="245.60000000000002" stroke="#222" stroke-width="0.8"/>
<line x1="131.39" y1="243.8" x2="131.39" y2="245.0" stroke="#222" stroke-width="0.8"/>
<line x1="146.80" y1="243.8" x2="146.80" y2="245.60000000000002" stroke="#222" stroke-width="0.8"/>
<text x="20.3" y="138.90" font-family="Liberation Sans, sans-serif" font-size="5.4" text-anchor="end" fill="#1e1e1e" stroke="#1e1e1e" stroke-width="0.12">150</text>
<line x1="21.7" y1="137.00" x2="23.5" y2="137.00" stroke="#222" stroke-width="0.8"/>
<text x="20.3" y="160.26" font-family="Liberation Sans, sans-serif" font-size="5.4" text-anchor="end" fill="#1e1e1e" stroke="#1e1e1e" stroke-width="0.12">100</text>
<line x1="21.7" y1="158.36" x2="23.5" y2="158.36" stroke="#222" stroke-width="0.8"/>
<text x="20.3" y="181.62" font-family="Liberation Sans, sans-serif" font-size="5.4" text-anchor="end" fill="#1e1e1e" stroke="#1e1e1e" stroke-width="0.12">50</text>
<line x1="21.7" y1="179.72" x2="23.5" y2="179.72" stroke="#222" stroke-width="0.8"/>
<text x="20.3" y="202.98" font-family="Liberation Sans, sans-serif" font-size="5.4" text-anchor="end" fill="#1e1e1e" stroke="#1e1e1e" stroke-width="0.12">0</text>
<line x1="21.7" y1="201.08" x2="23.5" y2="201.08" stroke="#222" stroke-width="0.8"/>
<text x="20.3" y="224.34" font-family="Liberation Sans, sans-serif" font-size="5.4" text-anchor="end" fill="#1e1e1e" stroke="#1e1e1e" stroke-width="0.12">-50</text>
<line x1="21.7" y1="222.44" x2="23.5" y2="222.44" stroke="#222" stroke-width="0.8"/>
<text x="20.3" y="245.70" font-family="Liberation Sans, sans-serif" font-size="5.4" text-anchor="end" fill="#1e1e1e" stroke="#1e1e1e" stroke-width="0.12">-100</text>
<line x1="21.7" y1="243.80" x2="23.5" y2="243.80" stroke="#222" stroke-width="0.8"/>
<line x1="22.4" y1="147.68" x2="23.5" y2="147.68" stroke="#222" stroke-width="0.8"/>
<line x1="22.4" y1="169.04" x2="23.5" y2="169.04" stroke="#222" stroke-width="0.8"/>
<line x1="22.4" y1="190.40" x2="23.5" y2="190.40" stroke="#222" stroke-width="0.8"/>
<line x1="22.4" y1="211.76" x2="23.5" y2="211.76" stroke="#222" stroke-width="0.8"/>
<line x1="22.4" y1="233.12" x2="23.5" y2="233.12" stroke="#222" stroke-width="0.8"/>
<text x="84.8" y="260.2" font-family="Liberation Sans, sans-serif" font-weight="bold" font-size="6.8" text-anchor="middle" fill="#1e1e1e">Voltage (V)</text>
<text x="9.6" y="184.8" font-family="Liberation Sans, sans-serif" font-weight="bold" font-size="6.8" text-anchor="middle" fill="#1e1e1e" transform="rotate(-90 9.6 184.8)">Current (nA)</text>
<polyline points="25.66,202.87 27.64,202.87 29.61,202.85 31.59,202.84 33.57,202.81 35.55,202.79 37.53,202.76 39.50,202.73 41.48,202.69 43.46,202.65 45.44,202.61 47.42,202.57 49.39,202.52 51.37,202.48 53.35,202.43 55.33,202.38 57.30,202.33 59.28,202.28 61.26,202.23 63.24,202.17 65.22,202.11 67.19,202.04 69.17,201.97 71.15,201.89 73.13,201.80 75.11,201.71 77.08,201.61 79.06,201.49 81.04,201.37 83.02,201.24 85.00,201.09 86.97,200.89 88.95,200.60 90.93,200.24 92.91,199.83 94.89,199.40 96.86,198.97 98.84,198.58 100.82,198.21 102.80,197.85 104.78,197.48 106.75,197.11 108.73,196.72 110.71,196.31 112.69,195.88 114.66,195.40 116.64,194.87 118.62,194.30 120.60,193.71 122.58,193.08 124.55,192.45 126.53,191.81 128.51,191.17 130.49,190.53 132.47,189.87 134.44,189.21 136.42,188.53 138.40,187.84 140.38,187.14 142.36,186.42 144.33,185.70" fill="none" stroke="#e3262e" stroke-width="1.7" stroke-linejoin="round"/>
<polyline points="26.27,238.02 28.63,236.73 30.98,235.43 33.34,234.12 35.69,232.81 38.05,231.49 40.40,230.15 42.76,228.80 45.11,227.44 47.47,226.06 49.82,224.67 52.18,223.26 54.53,221.83 56.89,220.38 59.24,218.92 61.60,217.43 63.95,215.91 66.31,214.38 68.66,212.81 71.02,211.23 73.37,209.61 75.73,207.97 78.08,206.29 80.44,204.59 82.79,202.85 85.15,201.08 87.51,199.28 89.86,197.44 92.22,195.56 94.57,193.65 96.93,191.69 99.28,189.70 101.64,187.67 103.99,185.59 106.35,183.47 108.70,181.31 111.06,179.10 113.41,176.84 115.77,174.53 118.12,172.18 120.48,169.78 122.83,167.32 125.19,164.81 127.54,162.25 129.90,159.63 132.25,156.96 134.61,154.23 136.96,151.44 139.32,148.59 141.67,145.69 144.03,142.72" fill="none" stroke="#111" stroke-width="1.7" stroke-linejoin="round"/>
<rect x="23.5" y="137" width="123.30000000000001" height="106.80000000000001" fill="none" stroke="#1e1e1e" stroke-width="1.35"/>
<line x1="28.8" y1="144.3" x2="43" y2="144.3" stroke="#111" stroke-width="1.8"/>
<line x1="28.8" y1="150.7" x2="43" y2="150.7" stroke="#e3262e" stroke-width="1.8"/>
<text x="44.8" y="146.2" font-family="Liberation Sans, sans-serif" font-weight="bold" font-size="5.2" fill="#111" stroke="#111" stroke-width="0.22">14.69</text>
<text x="44.8" y="152.6" font-family="Liberation Sans, sans-serif" font-weight="bold" font-size="5.2" fill="#111" stroke="#111" stroke-width="0.22">14.69/51.64</text>
<defs><radialGradient id="ins1" cx="0.5" cy="0.5" r="0.5"><stop offset="0" stop-color="#b0b0b0"/><stop offset="0.88" stop-color="#9c9c9c"/><stop offset="1" stop-color="#5a5a5a"/></radialGradient>
<radialGradient id="ins2" cx="0.5" cy="0.5" r="0.5"><stop offset="0" stop-color="#2a2a2a"/><stop offset="0.9" stop-color="#222"/><stop offset="1" stop-color="#161616"/></radialGradient>
<radialGradient id="blob" cx="0.5" cy="0.5" r="0.5"><stop offset="0" stop-color="#262626"/><stop offset="0.7" stop-color="#333"/><stop offset="1" stop-color="#666" stop-opacity="0.3"/></radialGradient>
<clipPath id="i1"><circle cx="63.1" cy="177.8" r="17.7"/></clipPath><clipPath id="i2"><circle cx="112.5" cy="222.2" r="17.8"/></clipPath>
<filter id="bl1" x="-30%" y="-30%" width="160%" height="160%"><feGaussianBlur stdDeviation="1.3"/></filter></defs>
<circle cx="63.1" cy="177.8" r="17.7" fill="url(#ins1)"/>
<g clip-path="url(#i1)">
<circle cx="54.2" cy="164" r="5.3999999999999995" fill="url(#blob)"/>
<circle cx="70.6" cy="164.7" r="5.8" fill="url(#blob)"/>
<circle cx="62.4" cy="170.7" r="6.6" fill="url(#blob)"/>
<circle cx="78.6" cy="173.7" r="5.3999999999999995" fill="url(#blob)"/>
<circle cx="52" cy="178.1" r="6.6" fill="url(#blob)"/>
<circle cx="71.4" cy="180.4" r="6.6" fill="url(#blob)"/>
<circle cx="60.2" cy="187.9" r="6.3999999999999995" fill="url(#blob)"/>
<circle cx="77" cy="190.5" r="4.1" fill="url(#blob)"/>
</g>
<circle cx="63.1" cy="177.8" r="17.5" fill="none" stroke="#5a5a5a" stroke-width="0.6"/>
<polyline points="82,183.6 95,183.6 95,188.5" fill="none" stroke="#111" stroke-width="0.9"/>
<polygon points="93.2,187.3 96.8,187.3 95,190.5" fill="#111"/>
<circle cx="112.5" cy="222.2" r="17.8" fill="url(#ins2)"/>
<g clip-path="url(#i2)"><g filter="url(#bl1)">
<ellipse cx="102" cy="211" rx="7" ry="6" fill="#3a3a3a"/><ellipse cx="124" cy="229" rx="7" ry="6" fill="#383838"/><ellipse cx="103" cy="232" rx="6" ry="5" fill="#2e2e2e"/><ellipse cx="121" cy="208" rx="5" ry="4" fill="#333"/>
<path d="M95,225.5 Q103,222.5 110.5,221.5 Q118,218 127,211 M110.5,221.5 Q113,229 113.5,239 M106,209 Q109,215 110.5,221" stroke="#6e6e6e" stroke-width="3.6" fill="none"/>
<circle cx="112" cy="222" r="3.2" fill="#9a9a9a"/><circle cx="114" cy="221" r="1.2" fill="#333"/><circle cx="124" cy="214" r="1.8" fill="#8a8a8a"/>
</g></g>
<circle cx="112.5" cy="222.2" r="17.6" fill="none" stroke="#d27a7a" stroke-width="0.5"/>
<polyline points="126,195.6 130.8,195.6 130.8,208.5" fill="none" stroke="#e3262e" stroke-width="0.9"/>
<text x="163" y="144.5" font-family="Liberation Sans, sans-serif" font-weight="bold" font-size="10">d</text>
<line x1="248.5" y1="136.6" x2="248.5" y2="243.3" stroke="#444" stroke-width="0.55" stroke-dasharray="0.9,0.9"/>
<line x1="187" y1="216.625" x2="310" y2="216.625" stroke="#444" stroke-width="0.55" stroke-dasharray="0.9,0.9"/>
<text x="187.00" y="251.6" font-family="Liberation Sans, sans-serif" font-size="5.4" text-anchor="middle" fill="#1e1e1e" stroke="#1e1e1e" stroke-width="0.12">-1.0</text>
<text x="217.75" y="251.6" font-family="Liberation Sans, sans-serif" font-size="5.4" text-anchor="middle" fill="#1e1e1e" stroke="#1e1e1e" stroke-width="0.12">-0.5</text>
<text x="248.50" y="251.6" font-family="Liberation Sans, sans-serif" font-size="5.4" text-anchor="middle" fill="#1e1e1e" stroke="#1e1e1e" stroke-width="0.12">0.0</text>
<text x="279.25" y="251.6" font-family="Liberation Sans, sans-serif" font-size="5.4" text-anchor="middle" fill="#1e1e1e" stroke="#1e1e1e" stroke-width="0.12">0.5</text>
<text x="310.00" y="251.6" font-family="Liberation Sans, sans-serif" font-size="5.4" text-anchor="middle" fill="#1e1e1e" stroke="#1e1e1e" stroke-width="0.12">1.0</text>
<line x1="187.00" y1="243.3" x2="187.00" y2="245.10000000000002" stroke="#222" stroke-width="0.8"/>
<line x1="202.38" y1="243.3" x2="202.38" y2="244.5" stroke="#222" stroke-width="0.8"/>
<line x1="217.75" y1="243.3" x2="217.75" y2="245.10000000000002" stroke="#222" stroke-width="0.8"/>
<line x1="233.12" y1="243.3" x2="233.12" y2="244.5" stroke="#222" stroke-width="0.8"/>
<line x1="248.50" y1="243.3" x2="248.50" y2="245.10000000000002" stroke="#222" stroke-width="0.8"/>
<line x1="263.88" y1="243.3" x2="263.88" y2="244.5" stroke="#222" stroke-width="0.8"/>
<line x1="279.25" y1="243.3" x2="279.25" y2="245.10000000000002" stroke="#222" stroke-width="0.8"/>
<line x1="294.62" y1="243.3" x2="294.62" y2="244.5" stroke="#222" stroke-width="0.8"/>
<line x1="310.00" y1="243.3" x2="310.00" y2="245.10000000000002" stroke="#222" stroke-width="0.8"/>
<text x="183.3" y="138.50" font-family="Liberation Sans, sans-serif" font-size="5.4" text-anchor="end" fill="#1e1e1e" stroke="#1e1e1e" stroke-width="0.12">150</text>
<line x1="185.2" y1="136.60" x2="187" y2="136.60" stroke="#222" stroke-width="0.8"/>
<text x="183.3" y="165.18" font-family="Liberation Sans, sans-serif" font-size="5.4" text-anchor="end" fill="#1e1e1e" stroke="#1e1e1e" stroke-width="0.12">100</text>
<line x1="185.2" y1="163.28" x2="187" y2="163.28" stroke="#222" stroke-width="0.8"/>
<text x="183.3" y="191.85" font-family="Liberation Sans, sans-serif" font-size="5.4" text-anchor="end" fill="#1e1e1e" stroke="#1e1e1e" stroke-width="0.12">50</text>
<line x1="185.2" y1="189.95" x2="187" y2="189.95" stroke="#222" stroke-width="0.8"/>
<text x="183.3" y="218.53" font-family="Liberation Sans, sans-serif" font-size="5.4" text-anchor="end" fill="#1e1e1e" stroke="#1e1e1e" stroke-width="0.12">0</text>
<line x1="185.2" y1="216.62" x2="187" y2="216.62" stroke="#222" stroke-width="0.8"/>
<text x="183.3" y="245.20" font-family="Liberation Sans, sans-serif" font-size="5.4" text-anchor="end" fill="#1e1e1e" stroke="#1e1e1e" stroke-width="0.12">-50</text>
<line x1="185.2" y1="243.30" x2="187" y2="243.30" stroke="#222" stroke-width="0.8"/>
<line x1="185.9" y1="149.94" x2="187" y2="149.94" stroke="#222" stroke-width="0.8"/>
<line x1="185.9" y1="176.61" x2="187" y2="176.61" stroke="#222" stroke-width="0.8"/>
<line x1="185.9" y1="203.29" x2="187" y2="203.29" stroke="#222" stroke-width="0.8"/>
<line x1="185.9" y1="229.96" x2="187" y2="229.96" stroke="#222" stroke-width="0.8"/>
<text x="248.5" y="260.2" font-family="Liberation Sans, sans-serif" font-weight="bold" font-size="6.8" text-anchor="middle" fill="#1e1e1e">Voltage (V)</text>
<text x="172.3" y="186.2" font-family="Liberation Sans, sans-serif" font-weight="bold" font-size="6.2" text-anchor="middle" fill="#1e1e1e" transform="rotate(-90 172.3 186.2)">Current (nA)</text>
<polyline points="187.00,219.40 189.00,219.40 191.00,219.38 193.00,219.37 195.00,219.34 196.99,219.31 198.99,219.27 200.99,219.23 202.99,219.19 204.99,219.14 206.99,219.08 208.99,219.03 210.98,218.97 212.98,218.91 214.98,218.85 216.98,218.78 218.98,218.72 220.98,218.64 222.98,218.54 224.98,218.43 226.97,218.31 228.97,218.19 230.97,218.06 232.97,217.92 234.97,217.78 236.97,217.64 238.97,217.49 240.97,217.33 242.97,217.16 244.96,216.98 246.96,216.78 248.96,216.58 250.96,216.35 252.96,216.12 254.96,215.87 256.96,215.59 258.96,215.30 260.95,214.99 262.95,214.65 264.95,214.29 266.95,213.89 268.95,213.44 270.95,212.96 272.95,212.43 274.94,211.87 276.94,211.27 278.94,210.64 280.94,209.95 282.94,209.16 284.94,208.30 286.94,207.38 288.94,206.42 290.94,205.44 292.93,204.47 294.93,203.52 296.93,202.57 298.93,201.61 300.93,200.63 302.93,199.64 304.93,198.64 306.93,197.63" fill="none" stroke="#111" stroke-width="1.7" stroke-linejoin="round"/>
<polyline points="187.00,221.16 189.00,221.15 191.00,221.12 193.00,221.09 195.00,221.04 196.99,220.98 198.99,220.91 200.99,220.84 202.99,220.75 204.99,220.66 206.99,220.57 208.99,220.47 210.98,220.36 212.98,220.25 214.98,220.14 216.98,220.03 218.98,219.91 220.98,219.77 222.98,219.61 224.98,219.43 226.97,219.23 228.97,219.02 230.97,218.81 232.97,218.59 234.97,218.36 236.97,218.14 238.97,217.91 240.97,217.68 242.97,217.43 244.96,217.16 246.96,216.87 248.96,216.55 250.96,216.20 252.96,215.82 254.96,215.41 256.96,214.97 258.96,214.49 260.95,213.98 262.95,213.43 264.95,212.83 266.95,212.14 268.95,211.38 270.95,210.55 272.95,209.66 274.94,208.71 276.94,207.72 278.94,206.70 280.94,205.63 282.94,204.46 284.94,203.22 286.94,201.91 288.94,200.54 290.94,199.13 292.93,197.69 294.93,196.23 296.93,194.73 298.93,193.16 300.93,191.54 302.93,189.86 304.93,188.14 306.93,186.38" fill="none" stroke="#e3262e" stroke-width="1.7" stroke-linejoin="round"/>
<polyline points="187.00,231.83 189.00,231.80 191.00,231.72 193.00,231.60 195.00,231.44 196.99,231.24 198.99,231.01 200.99,230.75 202.99,230.47 204.99,230.16 206.99,229.83 208.99,229.48 210.98,229.12 212.98,228.74 214.98,228.36 216.98,227.98 218.98,227.57 220.98,227.07 222.98,226.49 224.98,225.85 226.97,225.16 228.97,224.44 230.97,223.70 232.97,222.98 234.97,222.27 236.97,221.57 238.97,220.86 240.97,220.11 242.97,219.31 244.96,218.44 246.96,217.46 248.96,216.36 250.96,215.02 252.96,213.43 254.96,211.64 256.96,209.70 258.96,207.65 260.95,205.54 262.95,203.41 264.95,201.28 266.95,199.05 268.95,196.72 270.95,194.29 272.95,191.79 274.94,189.22 276.94,186.61 278.94,183.96 280.94,181.27 282.94,178.50 284.94,175.66 286.94,172.76 288.94,169.81 290.94,166.80 292.93,163.75 294.93,160.66 296.93,157.52 298.93,154.31 300.93,151.03 302.93,147.70 304.93,144.31 306.93,140.87" fill="none" stroke="#44e23c" stroke-width="1.7" stroke-linejoin="round"/>
<rect x="187" y="136.6" width="123" height="106.70000000000002" fill="none" stroke="#1e1e1e" stroke-width="1.35"/>
<line x1="188.2" y1="144.2" x2="202.3" y2="144.2" stroke="#111" stroke-width="2"/>
<text x="203.1" y="146.00" font-family="Liberation Sans, sans-serif" font-size="5" fill="#111" stroke="#111" stroke-width="0.15">0.1 mM</text>
<line x1="188.2" y1="150.29999999999998" x2="202.3" y2="150.29999999999998" stroke="#e3262e" stroke-width="2"/>
<text x="203.1" y="152.10" font-family="Liberation Sans, sans-serif" font-size="5" fill="#111" stroke="#111" stroke-width="0.15">1 mM</text>
<line x1="188.2" y1="156.39999999999998" x2="202.3" y2="156.39999999999998" stroke="#44e23c" stroke-width="2"/>
<text x="203.1" y="158.20" font-family="Liberation Sans, sans-serif" font-size="5" fill="#111" stroke="#111" stroke-width="0.15">10 mM</text>
<text x="322.3" y="144.8" font-family="Liberation Sans, sans-serif" font-weight="bold" font-size="10.5" stroke="#000" stroke-width="0.3">e</text>
<text x="335.8" y="138.20" font-family="Liberation Sans, sans-serif" font-size="5.4" text-anchor="end" fill="#222">9</text>
<line x1="337.0" y1="136.30" x2="338.8" y2="136.30" stroke="#222" stroke-width="0.8"/>
<text x="335.8" y="173.93" font-family="Liberation Sans, sans-serif" font-size="5.4" text-anchor="end" fill="#222">6</text>
<line x1="337.0" y1="172.03" x2="338.8" y2="172.03" stroke="#222" stroke-width="0.8"/>
<text x="335.8" y="209.67" font-family="Liberation Sans, sans-serif" font-size="5.4" text-anchor="end" fill="#222">3</text>
<line x1="337.0" y1="207.77" x2="338.8" y2="207.77" stroke="#222" stroke-width="0.8"/>
<text x="335.8" y="245.40" font-family="Liberation Sans, sans-serif" font-size="5.4" text-anchor="end" fill="#222">0</text>
<line x1="337.0" y1="243.50" x2="338.8" y2="243.50" stroke="#222" stroke-width="0.8"/>
<line x1="337.7" y1="154.17" x2="338.8" y2="154.17" stroke="#222" stroke-width="0.8"/>
<line x1="337.7" y1="189.90" x2="338.8" y2="189.90" stroke="#222" stroke-width="0.8"/>
<line x1="337.7" y1="225.63" x2="338.8" y2="225.63" stroke="#222" stroke-width="0.8"/>
<text x="355.00" y="251.2" font-family="Liberation Sans, sans-serif" font-size="5.2" text-anchor="middle" fill="#1e1e1e" stroke="#1e1e1e" stroke-width="0.12">0.1</text>
<text x="378.20" y="251.2" font-family="Liberation Sans, sans-serif" font-size="5.2" text-anchor="middle" fill="#1e1e1e" stroke="#1e1e1e" stroke-width="0.12">1</text>
<text x="401.40" y="251.2" font-family="Liberation Sans, sans-serif" font-size="5.2" text-anchor="middle" fill="#1e1e1e" stroke="#1e1e1e" stroke-width="0.12">10</text>
<text x="424.60" y="251.2" font-family="Liberation Sans, sans-serif" font-size="5.2" text-anchor="middle" fill="#1e1e1e" stroke="#1e1e1e" stroke-width="0.12">100</text>
<text x="447.80" y="251.2" font-family="Liberation Sans, sans-serif" font-size="5.2" text-anchor="middle" fill="#1e1e1e" stroke="#1e1e1e" stroke-width="0.12">1000</text>
<line x1="342.87" y1="243.5" x2="342.87" y2="244.7" stroke="#222" stroke-width="0.6"/>
<line x1="345.77" y1="243.5" x2="345.77" y2="244.7" stroke="#222" stroke-width="0.6"/>
<line x1="348.02" y1="243.5" x2="348.02" y2="244.7" stroke="#222" stroke-width="0.6"/>
<line x1="349.85" y1="243.5" x2="349.85" y2="244.7" stroke="#222" stroke-width="0.6"/>
<line x1="351.41" y1="243.5" x2="351.41" y2="244.7" stroke="#222" stroke-width="0.6"/>
<line x1="352.75" y1="243.5" x2="352.75" y2="244.7" stroke="#222" stroke-width="0.6"/>
<line x1="353.94" y1="243.5" x2="353.94" y2="244.7" stroke="#222" stroke-width="0.6"/>
<line x1="355.00" y1="243.5" x2="355.00" y2="245.5" stroke="#222" stroke-width="0.6"/>
<line x1="361.98" y1="243.5" x2="361.98" y2="244.7" stroke="#222" stroke-width="0.6"/>
<line x1="366.07" y1="243.5" x2="366.07" y2="244.7" stroke="#222" stroke-width="0.6"/>
<line x1="368.97" y1="243.5" x2="368.97" y2="244.7" stroke="#222" stroke-width="0.6"/>
<line x1="371.22" y1="243.5" x2="371.22" y2="244.7" stroke="#222" stroke-width="0.6"/>
<line x1="373.05" y1="243.5" x2="373.05" y2="244.7" stroke="#222" stroke-width="0.6"/>
<line x1="374.61" y1="243.5" x2="374.61" y2="244.7" stroke="#222" stroke-width="0.6"/>
<line x1="375.95" y1="243.5" x2="375.95" y2="244.7" stroke="#222" stroke-width="0.6"/>
<line x1="377.14" y1="243.5" x2="377.14" y2="244.7" stroke="#222" stroke-width="0.6"/>
<line x1="378.20" y1="243.5" x2="378.20" y2="245.5" stroke="#222" stroke-width="0.6"/>
<line x1="385.18" y1="243.5" x2="385.18" y2="244.7" stroke="#222" stroke-width="0.6"/>
<line x1="389.27" y1="243.5" x2="389.27" y2="244.7" stroke="#222" stroke-width="0.6"/>
<line x1="392.17" y1="243.5" x2="392.17" y2="244.7" stroke="#222" stroke-width="0.6"/>
<line x1="394.42" y1="243.5" x2="394.42" y2="244.7" stroke="#222" stroke-width="0.6"/>
<line x1="396.25" y1="243.5" x2="396.25" y2="244.7" stroke="#222" stroke-width="0.6"/>
<line x1="397.81" y1="243.5" x2="397.81" y2="244.7" stroke="#222" stroke-width="0.6"/>
<line x1="399.15" y1="243.5" x2="399.15" y2="244.7" stroke="#222" stroke-width="0.6"/>
<line x1="400.34" y1="243.5" x2="400.34" y2="244.7" stroke="#222" stroke-width="0.6"/>
<line x1="401.40" y1="243.5" x2="401.40" y2="245.5" stroke="#222" stroke-width="0.6"/>
<line x1="408.38" y1="243.5" x2="408.38" y2="244.7" stroke="#222" stroke-width="0.6"/>
<line x1="412.47" y1="243.5" x2="412.47" y2="244.7" stroke="#222" stroke-width="0.6"/>
<line x1="415.37" y1="243.5" x2="415.37" y2="244.7" stroke="#222" stroke-width="0.6"/>
<line x1="417.62" y1="243.5" x2="417.62" y2="244.7" stroke="#222" stroke-width="0.6"/>
<line x1="419.45" y1="243.5" x2="419.45" y2="244.7" stroke="#222" stroke-width="0.6"/>
<line x1="421.01" y1="243.5" x2="421.01" y2="244.7" stroke="#222" stroke-width="0.6"/>
<line x1="422.35" y1="243.5" x2="422.35" y2="244.7" stroke="#222" stroke-width="0.6"/>
<line x1="423.54" y1="243.5" x2="423.54" y2="244.7" stroke="#222" stroke-width="0.6"/>
<line x1="424.60" y1="243.5" x2="424.60" y2="245.5" stroke="#222" stroke-width="0.6"/>
<line x1="431.58" y1="243.5" x2="431.58" y2="244.7" stroke="#222" stroke-width="0.6"/>
<line x1="435.67" y1="243.5" x2="435.67" y2="244.7" stroke="#222" stroke-width="0.6"/>
<line x1="438.57" y1="243.5" x2="438.57" y2="244.7" stroke="#222" stroke-width="0.6"/>
<line x1="440.82" y1="243.5" x2="440.82" y2="244.7" stroke="#222" stroke-width="0.6"/>
<line x1="442.65" y1="243.5" x2="442.65" y2="244.7" stroke="#222" stroke-width="0.6"/>
<line x1="444.21" y1="243.5" x2="444.21" y2="244.7" stroke="#222" stroke-width="0.6"/>
<line x1="445.55" y1="243.5" x2="445.55" y2="244.7" stroke="#222" stroke-width="0.6"/>
<line x1="446.74" y1="243.5" x2="446.74" y2="244.7" stroke="#222" stroke-width="0.6"/>
<line x1="447.80" y1="243.5" x2="447.80" y2="245.5" stroke="#222" stroke-width="0.6"/>
<line x1="454.78" y1="243.5" x2="454.78" y2="244.7" stroke="#222" stroke-width="0.6"/>
<line x1="458.87" y1="243.5" x2="458.87" y2="244.7" stroke="#222" stroke-width="0.6"/>
<line x1="461.77" y1="243.5" x2="461.77" y2="244.7" stroke="#222" stroke-width="0.6"/>
<text x="401.5" y="260.2" font-family="Liberation Sans, sans-serif" font-weight="bold" font-size="6.8" text-anchor="middle" fill="#1e1e1e">Concentration (mM)</text>
<text x="328.8" y="189" font-family="Liberation Sans, sans-serif" font-weight="bold" font-size="6.6" text-anchor="middle" fill="#1e1e1e" transform="rotate(-90 328.8 189)">Current rectifying ratio</text>
<polyline points="340,173 348,168.5 356,165.5 364,166.5 372,169.5 380,173.8 390,179.5 400,186 410,193 420,200.5 430,207 440,213 448,217.3 462,218" fill="none" stroke="#333" stroke-width="0.9" stroke-dasharray="2.6,2"/>
<line x1="355.5" y1="154" x2="355.5" y2="166.2" stroke="#222" stroke-width="0.7"/>
<line x1="354.0" y1="154" x2="357.0" y2="154" stroke="#222" stroke-width="0.7"/>
<line x1="354.0" y1="166.2" x2="357.0" y2="166.2" stroke="#222" stroke-width="0.7"/>
<rect x="346.2" y="157.3" width="18.6" height="6.0" fill="#ffffff" stroke="#333" stroke-width="0.8"/>
<rect x="346.2" y="160.8" width="18.6" height="2.5" fill="#d6d6d6" stroke="#333" stroke-width="0.8"/>
<circle cx="355.5" cy="160.3" r="1.2" fill="#111"/>
<line x1="378.6" y1="170.7" x2="378.6" y2="181.9" stroke="#222" stroke-width="0.7"/>
<line x1="377.1" y1="170.7" x2="380.1" y2="170.7" stroke="#222" stroke-width="0.7"/>
<line x1="377.1" y1="181.9" x2="380.1" y2="181.9" stroke="#222" stroke-width="0.7"/>
<rect x="369.3" y="172.3" width="18.6" height="5.099999999999994" fill="#ffffff" stroke="#333" stroke-width="0.8"/>
<rect x="369.3" y="175.35000000000002" width="18.6" height="2.049999999999983" fill="#d6d6d6" stroke="#333" stroke-width="0.8"/>
<circle cx="378.6" cy="175" r="1.2" fill="#111"/>
<line x1="401.4" y1="182.6" x2="401.4" y2="195" stroke="#222" stroke-width="0.7"/>
<line x1="399.9" y1="182.6" x2="402.9" y2="182.6" stroke="#222" stroke-width="0.7"/>
<line x1="399.9" y1="195" x2="402.9" y2="195" stroke="#222" stroke-width="0.7"/>
<rect x="392.09999999999997" y="185.5" width="18.6" height="7.099999999999994" fill="#ffffff" stroke="#333" stroke-width="0.8"/>
<rect x="392.09999999999997" y="189.55" width="18.6" height="3.049999999999983" fill="#d6d6d6" stroke="#333" stroke-width="0.8"/>
<circle cx="401.4" cy="188.5" r="1.2" fill="#111"/>
<line x1="424.4" y1="196" x2="424.4" y2="204.5" stroke="#222" stroke-width="0.7"/>
<line x1="422.9" y1="196" x2="425.9" y2="196" stroke="#222" stroke-width="0.7"/>
<line x1="422.9" y1="204.5" x2="425.9" y2="204.5" stroke="#222" stroke-width="0.7"/>
<rect x="415.09999999999997" y="197.5" width="18.6" height="5.599999999999994" fill="#ffffff" stroke="#333" stroke-width="0.8"/>
<rect x="415.09999999999997" y="200.8" width="18.6" height="2.299999999999983" fill="#d6d6d6" stroke="#333" stroke-width="0.8"/>
<circle cx="424.4" cy="200.3" r="1.2" fill="#111"/>
<line x1="447.1" y1="212.5" x2="447.1" y2="223.1" stroke="#222" stroke-width="0.7"/>
<line x1="445.6" y1="212.5" x2="448.6" y2="212.5" stroke="#222" stroke-width="0.7"/>
<line x1="445.6" y1="223.1" x2="448.6" y2="223.1" stroke="#222" stroke-width="0.7"/>
<rect x="437.8" y="214" width="18.6" height="5.800000000000011" fill="#ffffff" stroke="#333" stroke-width="0.8"/>
<rect x="437.8" y="217.4" width="18.6" height="2.4000000000000057" fill="#d6d6d6" stroke="#333" stroke-width="0.8"/>
<circle cx="447.1" cy="217.9" r="1.2" fill="#111"/>
<rect x="338.8" y="136.3" width="124.0" height="107.19999999999999" fill="none" stroke="#1e1e1e" stroke-width="1.35"/></svg>
</body></html>
